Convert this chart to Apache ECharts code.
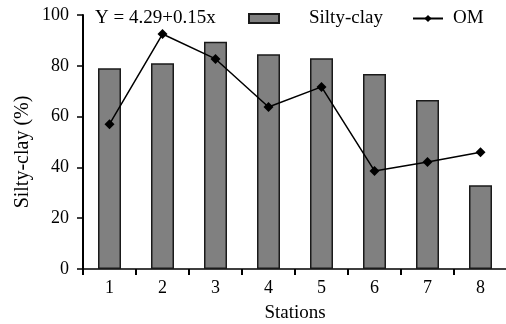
<!DOCTYPE html>
<html>
<head>
<meta charset="utf-8">
<script src="https://cdn.jsdelivr.net/npm/echarts@6/dist/echarts.min.js"></script>
<style>
  html, body { margin: 0; padding: 0; background: #fff; }
  #chart { width: 506px; height: 324px; }
</style>
</head>
<body>
<div id="chart"></div>
<script>
// data
const stations = ['1', '2', '3', '4', '5', '6', '7', '8']
const siltyClay = [79, 81, 89.5, 84.5, 83, 76.8, 66.5, 33]
const om = [57, 92.5, 82.7, 63.8, 71.7, 38.6, 42.1, 46]
const yTicks = [0, 20, 40, 60, 80, 100]

const font = 'Liberation Serif'
const chart = echarts.init(document.getElementById('chart'))

chart.setOption({
  animation: false,
  backgroundColor: '#fff',
  textStyle: { fontFamily: font },
  title: {
    text: 'Y = 4.29+0.15x',
    left: 90,
    top: 4,
    textStyle: { fontFamily: font, fontSize: 19, fontWeight: 'normal', color: '#000' }
  },
  legend: [
    {
      data: [{ name: 'Silty-clay', icon: 'rect' }],
      left: 248,
      top: 9,
      padding: 0,
      itemWidth: 30,
      itemHeight: 9,
      textStyle: { fontFamily: font, fontSize: 19, color: '#000', padding: [0, 0, 0, 25] }
    },
    {
      data: ['OM'],
      left: 412,
      top: 9,
      padding: 0,
      itemWidth: 30,
      itemHeight: 9,
      textStyle: { fontFamily: font, fontSize: 19, color: '#000', padding: [0, 0, 0, 5] }
    }
  ],
  // keep the plot box fixed, v6 would otherwise shrink it to fit the axis names
  grid: { left: 83, top: 15, width: 424, height: 254, containLabel: false, outerBoundsMode: 'none' },
  xAxis: {
    type: 'category',
    data: stations,
    name: 'Stations',
    nameLocation: 'middle',
    nameGap: 35,
    nameTextStyle: { fontFamily: font, fontSize: 19, color: '#000' },
    axisLine: { lineStyle: { color: '#000', width: 1.5 } },
    axisTick: { show: true, inside: false, length: 6, lineStyle: { color: '#000', width: 2 } },
    axisLabel: { fontFamily: font, fontSize: 18, color: '#000', margin: 10 }
  },
  yAxis: {
    type: 'value',
    min: 0,
    max: 100,
    interval: 20,
    name: 'Silty-clay (%)',
    nameLocation: 'middle',
    nameGap: 50,
    nameMoveOverlap: false,
    nameTextStyle: { fontFamily: font, fontSize: 20, color: '#000', padding: [0, 20, 0, 0] },
    axisLine: { show: true, lineStyle: { color: '#000', width: 2 } },
    axisTick: { show: true, inside: false, length: 6, lineStyle: { color: '#000', width: 1.5 } },
    axisLabel: {
      fontFamily: font, fontSize: 18, color: '#000', margin: 14,
      formatter: v => (yTicks.includes(v) ? String(v) : '')
    },
    splitLine: { show: false }
  },
  series: [
    {
      name: 'Silty-clay',
      type: 'bar',
      data: siltyClay,
      barWidth: 23,
      itemStyle: { color: '#808080', borderColor: '#1a1a1a', borderWidth: 1.5 }
    },
    {
      name: 'OM',
      type: 'line',
      data: om,
      symbol: 'diamond',
      symbolSize: 10,
      itemStyle: { color: '#000' },
      lineStyle: { color: '#000', width: 1.5 }
    }
  ]
})
</script>
</body>
</html>
